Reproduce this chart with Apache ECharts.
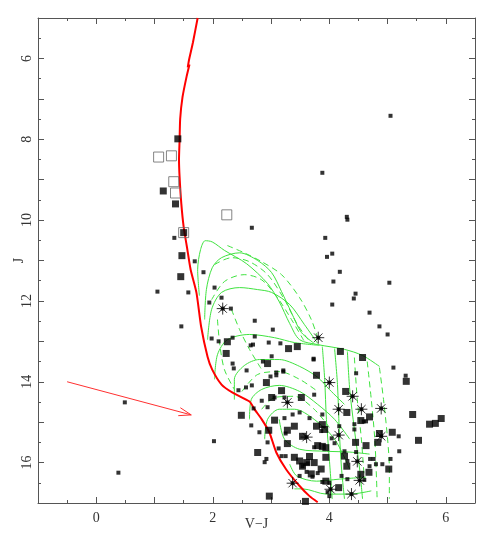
<!DOCTYPE html>
<html>
<head>
<meta charset="utf-8">
<script src="https://cdn.jsdelivr.net/npm/echarts@6/dist/echarts.min.js"></script>
<style>
html, body { margin: 0; padding: 0; background: #fff; }
#chart { width: 491px; height: 545px; }
</style>
</head>
<body>
<div id="chart"></div>
<script>
// axis ranges
const xRange = [-1, 6.5]
const yRange = [5, 17]

// red isochrone (V-J, J)
const isochrone = [[1.74,5.0],[1.66,5.6],[1.59,6.05],[1.57,6.22],[1.60,6.15],[1.55,6.45],[1.48,6.96],[1.44,7.5],[1.43,8.02],[1.42,8.5],[1.43,8.93],
  [1.46,9.6],[1.50,10.17],[1.56,10.7],[1.62,11.23],[1.72,11.80],[1.80,12.64],[1.91,13.38],[1.99,13.70],[2.15,14.07],[2.34,14.27],
  [2.63,14.49],[2.72,14.69],[2.84,14.93],[2.97,15.25],[3.09,15.75],[3.26,16.17],[3.49,16.58],[3.66,16.83],[3.80,16.98]]

// reddening vector: start x, start y, end x, end y
const reddening = [[-0.5, 14.0, 1.63, 14.82]]

// green model curves, solid
const solidTracks = [
  [[1.77,11.87],[1.74,11.23],[1.79,10.73],[1.87,10.51],[1.99,10.54],[2.20,10.75],[2.58,11.08],[2.94,11.57],[3.14,12.02],[3.32,12.56],[3.49,12.96],[3.80,13.08],[4.26,13.20],[4.57,13.35],[4.86,13.62]],
  [[1.86,12.46],[1.89,11.72],[1.99,11.18],[2.15,10.93],[2.46,10.81],[2.77,11.00],[3.01,11.30],[3.18,11.77],[3.35,12.29],[3.52,12.78],[3.74,13.05]],
  [[1.91,12.96],[1.98,12.21],[2.15,11.79],[2.46,11.67],[2.77,11.72],[3.01,11.79],[3.32,12.09],[3.57,12.58],[3.80,13.05]],
  [[2.03,13.94],[2.08,13.33],[2.25,12.96],[2.63,12.83],[3.06,12.91],[3.40,13.03],[3.83,13.10]],
  [[2.37,14.44],[2.37,13.94],[2.54,13.60],[2.80,13.45],[3.14,13.45],[3.49,13.62],[3.80,13.89],[4.00,14.19],[4.26,14.56]],
  [[2.63,14.93],[2.66,14.44],[2.84,14.19],[3.14,14.09],[3.49,14.24],[3.80,14.56],[4.09,14.93],[4.35,15.42]],
  [[2.89,15.42],[2.94,14.93],[3.14,14.68],[3.40,14.68],[3.74,14.93],[4.09,15.42],[4.35,16.16]],
  [[3.14,14.93],[3.23,15.42],[3.49,15.67],[3.95,15.72],[4.35,15.74],[4.69,15.79]],
  [[3.32,16.04],[3.44,16.33],[3.78,16.46],[4.17,16.41],[4.63,16.36]],
  [[3.40,16.65],[3.54,16.65],[3.95,16.78],[4.35,16.78],[4.72,16.70]],
  [[3.88,13.13],[3.92,13.94],[3.95,14.93],[4.00,15.91],[4.05,16.90]],
  [[4.09,13.18],[4.14,14.07],[4.17,15.18],[4.21,16.16],[4.26,16.90]],
  [[4.31,13.25],[4.35,14.19],[4.43,15.18],[4.52,16.16],[4.57,16.90]]
]

// green model curves, dashed
const dashedTracks = [
  [[2.25,10.63],[2.54,10.81],[2.84,11.03],[3.18,11.35],[3.49,11.92],[3.69,12.46],[3.80,12.91]],
  [[2.03,11.10],[2.32,10.93],[2.63,11.03],[2.94,11.35],[3.23,11.97],[3.45,12.58],[3.66,13.00]],
  [[1.98,11.97],[2.20,11.52],[2.54,11.35],[2.84,11.48],[3.11,11.92],[3.35,12.46],[3.57,13.00]],
  [[2.08,12.46],[2.12,13.08],[2.20,13.70],[2.37,14.19]],
  [[2.32,12.21],[2.46,12.71],[2.63,13.20],[2.84,13.70]],
  [[4.86,13.65],[4.93,14.44],[5.00,15.42],[5.03,16.16],[5.03,16.90]],
  [[4.65,13.50],[4.72,14.44],[4.78,15.42],[4.81,16.41],[4.82,16.90]],
  [[4.43,13.40],[4.48,14.44],[4.55,15.42],[4.60,16.41]],
  [[2.50,14.24],[2.77,13.82],[3.14,13.75],[3.49,13.94],[3.80,14.24]],
  [[2.84,14.68],[3.06,14.39],[3.40,14.36],[3.74,14.68],[4.00,15.13]]
]

// stars
const smallStars = [[1.34,10.44],[1.69,11.02],[1.05,11.77],[1.58,11.79],[1.84,11.29],[2.03,11.67],[2.15,11.92],[1.94,12.04],[2.31,12.19],[1.46,12.63],
  [1.98,12.93],[2.10,13.00],[2.34,12.91],[2.34,13.55],[2.36,13.67],[2.58,13.72],[2.44,14.21],[2.57,14.14],[0.49,14.51],[2.02,15.47],[0.38,16.25],
  [5.05,7.42],[3.88,8.83],[2.67,10.19],[4.30,9.92],[4.31,9.99],[3.93,10.44],[3.96,10.91],[4.05,10.83],
  [2.72,12.49],[3.03,12.71],[4.18,11.28],[4.07,11.52],[5.03,11.55],[4.45,11.82],[4.42,11.94],[4.05,12.09],[4.69,12.29],[4.86,12.63],[5.00,12.83],[5.10,13.65],
  [2.72,12.88],[2.65,13.10],[2.69,13.08],[2.96,13.03],[3.16,13.05],[3.01,13.37],[3.09,13.84],[3.21,13.72],[3.73,13.45],[4.46,13.79],[5.31,13.85],
  [5.19,15.35],[5.20,15.72],[5.05,15.91],[4.91,16.04],[4.80,16.04],[4.76,15.91],[4.59,14.98],[4.43,15.05],[4.43,15.18],[4.17,15.10],[4.04,15.40],
  [4.09,15.52],[4.26,15.72],[4.21,16.33],[4.31,16.41],[4.60,16.43],[4.69,16.09],[4.70,15.91],[4.31,15.96],[4.46,15.74],[4.00,16.50],[4.00,16.83],
  [3.88,14.81],[3.86,15.22],[3.73,13.43],[3.74,14.32],[4.63,14.98],
  [2.86,13.50],[2.99,13.87],[3.09,13.77],[3.21,13.75],[2.67,14.09],[2.84,14.47],[3.06,14.39],[2.94,14.63],[2.70,14.66],[2.66,15.08],[2.80,15.25],
  [2.94,15.50],[3.13,15.65],[3.18,15.84],[2.89,15.99],[2.92,15.91],[3.25,15.28],[3.23,14.90],[3.37,14.81],[3.49,14.76],[3.66,14.90],[3.74,15.62],
  [3.80,16.26],[3.25,15.84],[3.61,16.23],[3.71,16.35],[3.49,16.33],[3.88,16.48],[3.97,16.73],[3.23,14.39],[3.54,16.09],[3.63,16.02]]

const largeStars = [[1.40,7.99],[1.15,9.28],[1.36,9.60],[1.50,10.31],[1.47,10.88],[1.45,11.40],[2.25,13.01],[2.23,13.30],[2.49,14.83],
  [3.30,13.18],[3.45,13.13],[4.19,13.25],[4.57,13.40],[3.78,13.84],[2.94,13.55],[2.92,14.02],
  [5.32,13.99],[5.43,14.81],[5.72,15.05],[5.82,15.03],[5.92,14.91],[5.53,15.45],[5.08,15.25],[5.02,16.16],[4.28,14.24],[4.30,14.76],[4.54,14.96],
  [4.45,15.50],[4.63,15.58],[4.68,16.24],[4.54,16.29],[4.83,15.50],[4.86,15.28],[3.92,15.18],[4.26,15.84],[3.88,15.60],[3.94,15.63],[4.16,16.62],[4.69,14.87],
  [2.77,15.75],[2.97,16.83],[3.01,14.39],[3.18,14.22],[3.52,14.39],[3.06,14.95],[2.96,15.20],[3.28,15.20],[3.40,15.10],[3.54,15.35],[3.78,15.10],
  [3.28,15.53],[3.40,15.87],[3.49,15.96],[3.61,16.00],[3.74,16.00],[3.66,15.85],[3.94,15.87],[3.69,16.28],[3.86,16.16],[3.94,16.46],[3.59,16.96],
  [3.80,15.58],[3.88,15.06],[4.30,16.09],[3.54,16.09]]

const openStars = [[1.07,8.44],[1.29,8.41],[1.33,9.05],[1.36,9.33],[2.24,9.87],[1.50,10.31]]

const asteriskStars = [[2.17,12.19],[3.81,12.91],[4.00,14.02],[4.40,14.36],[3.28,14.51],[4.16,14.68],[4.55,14.68],[4.89,14.66],
  [3.61,15.37],[4.16,15.32],[4.89,15.35],[4.48,15.97],[4.52,16.44],[3.37,16.51],[4.02,16.66],[4.38,16.78]]

const serif = 'Liberation Serif'
const frameColor = '#555'
const green = '#3fe33f'

const div_chart = document.getElementById('chart')
const myChart = echarts.init(div_chart)

function axisBase(show_label){
	return {
		type: 'value',
		interval: 1,
		axisLine: { show: true, onZero: false, lineStyle: { color: frameColor, width: 1 } },
		axisTick: { show: true, inside: true, length: 6, lineStyle: { color: frameColor } },
		minorTick: { show: true, splitNumber: 2, length: 3, lineStyle: { color: frameColor } },
		splitLine: { show: false },
		axisLabel: {
			show: show_label,
			fontFamily: serif,
			fontSize: 14,
			color: '#333',
			formatter: function(v){ return (Math.round(v) % 2 === 0) ? String(v) : '' }
		}
	}
}

let series = []

//绿色模型线
solidTracks.forEach(function(tr){
	series.push({ type: 'line', data: tr, symbol: 'none', smooth: 0.3, z: 1,
		lineStyle: { color: green, width: 1 } })
})
dashedTracks.forEach(function(tr){
	series.push({ type: 'line', data: tr, symbol: 'none', smooth: 0.3, z: 1,
		lineStyle: { color: green, width: 1, type: [6, 4] } })
})

//红色等龄线
series.push({ type: 'line', data: isochrone, symbol: 'none', smooth: 0.2, z: 2,
	lineStyle: { color: '#ff0000', width: 2 } })

//消光箭头
series.push({
	type: 'custom', z: 2,
	encode: { x: [0, 2], y: [1, 3] },
	data: reddening,
	renderItem: function(params, api){
		const p0 = api.coord([api.value(0), api.value(1)])
		const p1 = api.coord([api.value(2), api.value(3)])
		const ang = Math.atan2(p1[1] - p0[1], p1[0] - p0[0])
		const len = 13, spread = 0.32
		const h1 = [p1[0] - len * Math.cos(ang - spread), p1[1] - len * Math.sin(ang - spread)]
		const h2 = [p1[0] - len * Math.cos(ang + spread), p1[1] - len * Math.sin(ang + spread)]
		return {
			type: 'group',
			children: [
				{ type: 'line', shape: { x1: p0[0], y1: p0[1], x2: p1[0], y2: p1[1] }, style: { stroke: '#ff3030', lineWidth: 1 } },
				{ type: 'polyline', shape: { points: [h1, p1, h2] }, style: { stroke: '#ff3030', lineWidth: 1, fill: null } }
			]
		}
	}
})

//星点
series.push({ type: 'scatter', data: smallStars, symbol: 'rect', symbolSize: 4, z: 3,
	itemStyle: { color: '#000' } })
series.push({ type: 'scatter', data: largeStars, symbol: 'rect', symbolSize: 7, z: 3,
	itemStyle: { color: '#000' } })
series.push({ type: 'scatter', data: openStars, symbol: 'rect', symbolSize: 10, z: 3,
	itemStyle: { color: 'transparent', borderColor: '#666', borderWidth: 1 } })
series.push({ type: 'scatter', data: asteriskStars, symbol: 'path://M10,0L10,20M0,10L20,10M3,3L17,17M3,17L17,3', symbolSize: 12, z: 4,
	itemStyle: { color: 'transparent', borderColor: '#000', borderWidth: 1 } })
series.push({ type: 'scatter', data: asteriskStars, symbol: 'rect', symbolSize: 4, z: 4,
	itemStyle: { color: '#000' } })

let option = {
	animation: false,
	backgroundColor: '#fff',
	grid: { left: 38, top: 18, right: 16, bottom: 42, containLabel: false, outerBoundsMode: 'none' },
	xAxis: [
		Object.assign(axisBase(true), { min: xRange[0], max: xRange[1], position: 'bottom',
			name: 'V\u2212J', nameLocation: 'middle', nameGap: 14, nameMoveOverlap: false,
			nameTextStyle: { fontFamily: serif, fontSize: 14, color: '#333' } }),
		Object.assign(axisBase(false), { min: xRange[0], max: xRange[1], position: 'top' })
	],
	yAxis: [
		Object.assign(axisBase(true), { min: yRange[0], max: yRange[1], inverse: true, position: 'left',
			name: 'J', nameLocation: 'middle', nameGap: 12, nameRotate: 90, nameMoveOverlap: false,
			nameTextStyle: { fontFamily: serif, fontSize: 14, color: '#333' } }),
		Object.assign(axisBase(false), { min: yRange[0], max: yRange[1], inverse: true, position: 'right' })
	],
	series: series
}
option.yAxis[0].axisLabel.rotate = 90
option.yAxis[0].axisLabel.margin = 4

myChart.setOption(option)
</script>
</body>
</html>
